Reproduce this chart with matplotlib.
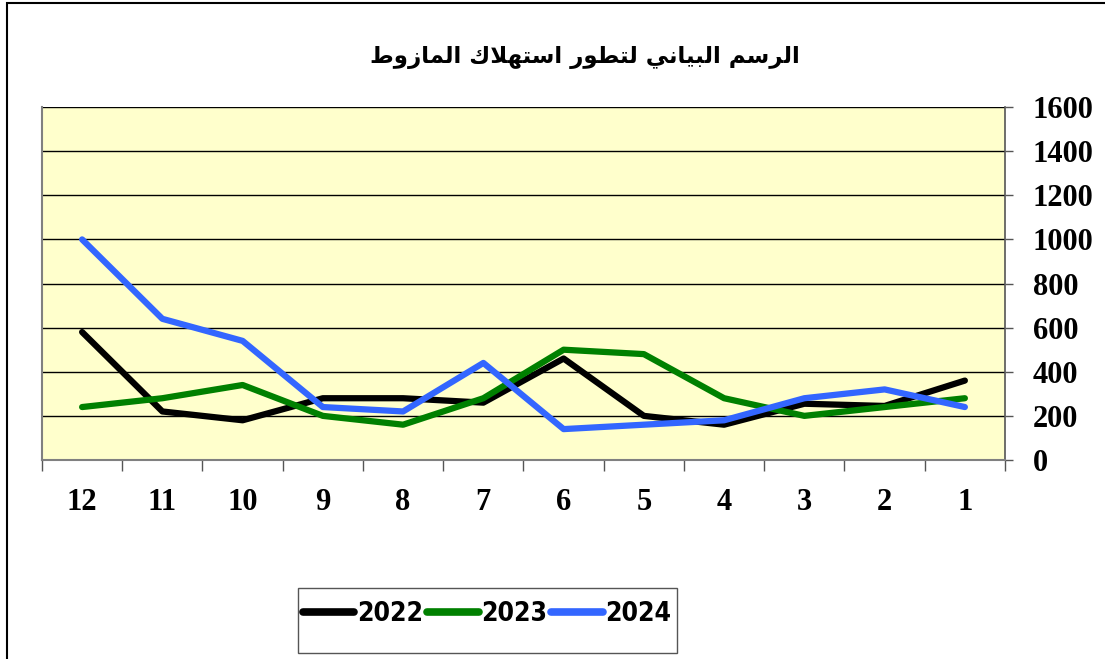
import matplotlib
matplotlib.use("Agg")
import matplotlib.pyplot as plt
from matplotlib.patches import Rectangle

# data (months shown right-to-left: 12 ... 1)
months = [12, 11, 10, 9, 8, 7, 6, 5, 4, 3, 2, 1]
y2022 = [580, 220, 180, 280, 280, 260, 460, 200, 160, 255, 245, 360]
y2023 = [240, 280, 340, 200, 160, 280, 500, 480, 280, 200, 240, 280]
y2024 = [1000, 640, 540, 240, 220, 440, 140, 160, 180, 280, 320, 240]
series_names = ["2022", "2023", "2024"]
colors = ["#000000", "#008000", "#3366FF"]
title_text = "الرسم البياني لتطور استهلاك المازوط"

# minimal arabic shaping (matplotlib has no text layout engine for arabic)
# forms: isolated, final, initial, medial
FORMS = {
    "ا": ("\uFE8D", "\uFE8E", None, None),
    "ل": ("\uFEDD", "\uFEDE", "\uFEDF", "\uFEE0"),
    "ر": ("\uFEAD", "\uFEAE", None, None),
    "س": ("\uFEB1", "\uFEB2", "\uFEB3", "\uFEB4"),
    "م": ("\uFEE1", "\uFEE2", "\uFEE3", "\uFEE4"),
    "ب": ("\uFE8F", "\uFE90", "\uFE91", "\uFE92"),
    "ي": ("\uFEF1", "\uFEF2", "\uFEF3", "\uFEF4"),
    "ن": ("\uFEE5", "\uFEE6", "\uFEE7", "\uFEE8"),
    "ت": ("\uFE95", "\uFE96", "\uFE97", "\uFE98"),
    "ط": ("\uFEC1", "\uFEC2", "\uFEC3", "\uFEC4"),
    "و": ("\uFEED", "\uFEEE", None, None),
    "ه": ("\uFEE9", "\uFEEA", "\uFEEB", "\uFEEC"),
    "ك": ("\uFED9", "\uFEDA", "\uFEDB", "\uFEDC"),
    "ز": ("\uFEAF", "\uFEB0", None, None),
    "لا": ("\uFEFB", "\uFEFC", None, None),
}


def shape_word(word):
    # merge lam-alef
    letters = []
    i = 0
    while i < len(word):
        if word[i] == "ل" and i + 1 < len(word) and word[i + 1] == "ا":
            letters.append("لا")
            i += 2
        else:
            letters.append(word[i])
            i += 1
    out = []
    for k, ch in enumerate(letters):
        f = FORMS[ch]
        prev_joins = k > 0 and FORMS[letters[k - 1]][2] is not None
        next_exists = k + 1 < len(letters)
        can_join_next = f[2] is not None and next_exists
        if prev_joins and can_join_next:
            out.append(f[3])
        elif prev_joins:
            out.append(f[1])
        elif can_join_next:
            out.append(f[2])
        else:
            out.append(f[0])
    return "".join(out)


def shape(text):
    words = [shape_word(w) for w in text.split(" ")]
    return " ".join(words)[::-1]


fig = plt.figure(figsize=(11.05, 6.59), dpi=100)
ax = fig.add_axes([0.038, 0.302, 0.8715, 0.5355])
ax.set_facecolor("#FFFFCC")

x = list(range(len(months)))
for vals, name, c in zip([y2022, y2023, y2024], series_names, colors):
    ax.plot(x, vals, color=c, lw=4.5, label=name,
            solid_capstyle="round", solid_joinstyle="round", zorder=3)

ax.set_xlim(-0.5, len(months) - 0.5)
ax.set_ylim(0, 1600)
ax.set_yticks(range(0, 1601, 200))
ax.yaxis.tick_right()
ax.grid(axis="y", color="black", lw=1, zorder=1)
ax.set_axisbelow(True)

# category ticks between months, labels centred
ax.set_xticks([i - 0.5 for i in range(len(months) + 1)])
ax.set_xticklabels([])
ax.set_xticks(x, minor=True)
ax.set_xticklabels([str(m) for m in months], minor=True)
ax.tick_params(axis="x", which="major", length=8, width=1, color="#555555")
ax.tick_params(axis="x", which="minor", length=0, pad=20)
ax.tick_params(axis="y", length=6, width=1, color="#555555", pad=14)
for lab in ax.get_xticklabels(minor=True) + ax.get_yticklabels():
    lab.set_fontfamily("Liberation Serif")
    lab.set_fontweight("bold")
    lab.set_fontsize(22)

for side in ["left", "bottom"]:
    ax.spines[side].set_color("#808080")
    ax.spines[side].set_linewidth(1.5)
ax.spines["top"].set_visible(False)
ax.spines["right"].set_color("#555555")
ax.spines["right"].set_linewidth(1.2)

fig.text(0.529, 0.912, shape(title_text), ha="center", va="center",
         fontsize=16.5, fontweight="bold", family=["DejaVu Sans"])

leg = fig.legend(loc="center left", bbox_to_anchor=(303 / 1105, 1 - 614 / 659),
                 ncol=3, frameon=False,
                 handlelength=1.95, handletextpad=0.1, columnspacing=0.15,
                 borderpad=0, borderaxespad=0,
                 prop={"family": "DejaVu Sans", "stretch": "condensed",
                       "weight": "bold", "size": 19})
for h in leg.get_lines():
    h.set_linewidth(5.5)
    h.set_solid_capstyle("round")

# legend box
fig.patches.append(Rectangle((298 / 1105, 1 - 653 / 659), 379 / 1105, 65 / 659,
                             transform=fig.transFigure, fill=False,
                             edgecolor="#555555", lw=1))

# outer chart border
fig.patches.append(Rectangle((0.0063, -0.05), 1.2, 1.0455, transform=fig.transFigure,
                             fill=False, edgecolor="black", lw=1.5))

fig.savefig("out.png", dpi=100)
